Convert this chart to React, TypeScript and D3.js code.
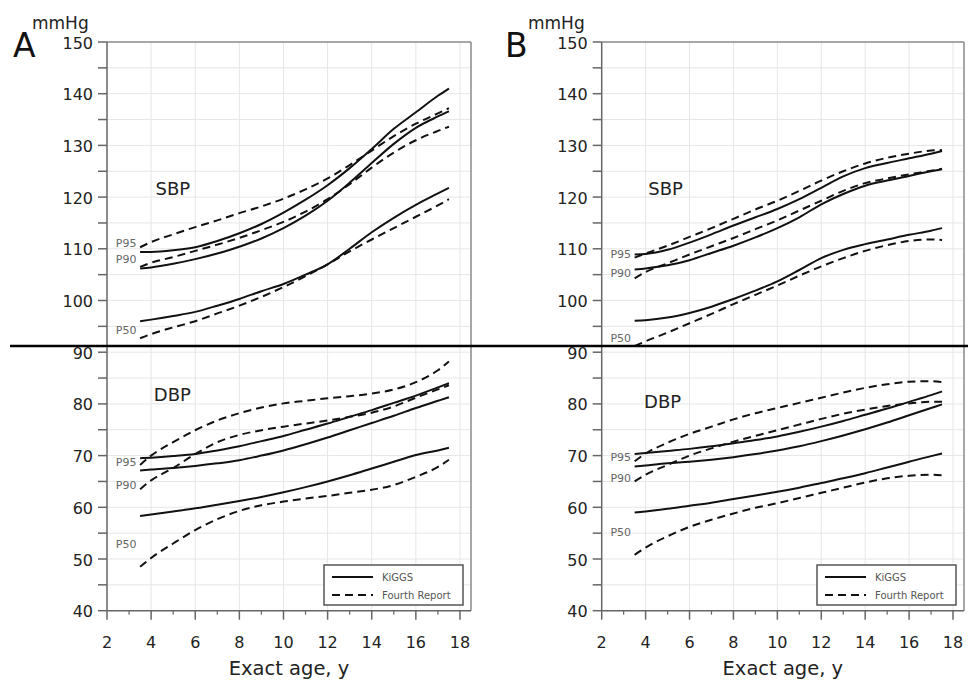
import * as d3 from "d3"

// ages at which the curves are read
const ages = [3.5, 4, 5, 6, 7, 8, 9, 10, 11, 12, 13, 14, 15, 16, 17, 17.5]

// Panel A — SBP
const aSbpK95 = [109.4, 109.4, 109.7, 110.3, 111.5, 113, 114.8, 117, 119.5, 122.3, 125.6, 129.3, 133.2, 136.4, 139.6, 141]
const aSbpK90 = [106.2, 106.4, 107.1, 108, 109.1, 110.4, 112, 114, 116.4, 119.3, 122.8, 126.6, 130.3, 133.4, 135.6, 136.6]
const aSbpK50 = [96, 96.3, 97, 97.8, 99, 100.3, 101.8, 103.2, 105, 107, 110, 113.2, 116, 118.5, 120.7, 121.8]
const aSbpF95 = [110.3, 111.3, 112.8, 114.2, 115.5, 116.9, 118.2, 119.7, 121.5, 123.6, 126.2, 129, 131.8, 134.2, 136.2, 137.2]
const aSbpF90 = [106.5, 107.3, 108.4, 109.6, 110.8, 112.1, 113.6, 115.2, 117.2, 119.6, 122.5, 125.7, 128.6, 131, 132.8, 133.6]
const aSbpF50 = [92.7, 93.5, 94.8, 96, 97.5, 99, 100.7, 102.6, 104.7, 107, 109.5, 111.8, 114, 116.2, 118.4, 119.6]

// Panel A — DBP
const aDbpK95 = [69.5, 69.6, 69.9, 70.3, 71, 71.8, 72.8, 73.8, 75, 76.2, 77.5, 78.8, 80.2, 81.6, 83.2, 84]
const aDbpK90 = [67.1, 67.3, 67.6, 68, 68.5, 69.1, 70, 71, 72.2, 73.5, 74.9, 76.3, 77.7, 79.2, 80.6, 81.3]
const aDbpK50 = [58.3, 58.6, 59.2, 59.8, 60.5, 61.2, 62, 62.9, 63.9, 65, 66.2, 67.5, 68.8, 70.1, 71, 71.5]
const aDbpF95 = [68.2, 70, 72.6, 74.9, 76.8, 78.2, 79.3, 80.1, 80.6, 81.1, 81.5, 82, 82.8, 84.2, 86.5, 88.2]
const aDbpF90 = [63.5, 65.2, 67.6, 70.3, 72.6, 74, 74.9, 75.6, 76.2, 76.8, 77.5, 78.3, 79.5, 81.2, 82.8, 83.6]
const aDbpF50 = [48.5, 50.2, 53, 55.6, 57.7, 59.3, 60.4, 61.1, 61.7, 62.2, 62.8, 63.4, 64.3, 65.9, 67.8, 69.2]

// Panel B — SBP
const bSbpK95 = [108.9, 109, 109.8, 111.2, 112.8, 114.5, 116.1, 117.7, 119.6, 121.8, 124, 125.6, 126.6, 127.5, 128.4, 128.9]
const bSbpK90 = [106, 106.2, 106.8, 107.8, 109.2, 110.6, 112.2, 114, 116.1, 118.6, 120.6, 122.2, 123.2, 124.1, 125, 125.4]
const bSbpK50 = [96.1, 96.2, 96.7, 97.6, 98.8, 100.3, 101.9, 103.7, 105.9, 108.2, 109.8, 110.9, 111.8, 112.7, 113.5, 114]
const bSbpF95 = [108.3, 109.1, 110.6, 112.3, 114, 115.8, 117.6, 119.3, 121.2, 123.2, 125, 126.5, 127.6, 128.4, 129, 129.1]
const bSbpF90 = [104.3, 105.5, 107.2, 108.9, 110.5, 112.1, 113.8, 115.5, 117.4, 119.3, 121.2, 122.7, 123.6, 124.4, 125.1, 125.5]
const bSbpF50 = [91.2, 92.1, 93.8, 95.6, 97.4, 99.3, 101.1, 102.9, 104.8, 106.6, 108.2, 109.6, 110.7, 111.5, 111.8, 111.7]

// Panel B — DBP
const bDbpK95 = [70.3, 70.5, 70.9, 71.3, 71.8, 72.4, 73, 73.7, 74.6, 75.6, 76.7, 77.9, 79.1, 80.4, 81.7, 82.4]
const bDbpK90 = [67.9, 68.1, 68.5, 68.8, 69.2, 69.7, 70.3, 71, 71.8, 72.8, 73.9, 75.1, 76.4, 77.8, 79.2, 79.9]
const bDbpK50 = [59, 59.2, 59.7, 60.3, 60.9, 61.6, 62.3, 63, 63.8, 64.7, 65.6, 66.6, 67.7, 68.8, 69.9, 70.4]
const bDbpF95 = [68.9, 70.4, 72.5, 74.2, 75.6, 77, 78.2, 79.2, 80.2, 81.2, 82.2, 83.1, 83.8, 84.3, 84.4, 84.2]
const bDbpF90 = [65, 66.3, 68.2, 70, 71.4, 72.7, 73.8, 74.9, 76, 77.1, 78.1, 78.9, 79.6, 80.1, 80.4, 80.4]
const bDbpF50 = [50.8, 52.2, 54.4, 56.2, 57.6, 58.8, 59.9, 60.8, 61.8, 62.8, 63.8, 64.8, 65.6, 66.1, 66.3, 66.2]

const yTicks = d3.range(40, 151, 10)
const yMinor = d3.range(45, 150, 10)
const xTicks = d3.range(2, 19, 2)
const xMinor = d3.range(3, 19, 2)
const pctLabels = ["P95", "P90", "P50"]

// label anchors (value units) per panel
const aLabelY = [110.3, 107.3, 93.5, 67.9, 63.5, 52.1]
const bLabelY = [108.2, 104.5, 92.0, 69.0, 64.8, 54.4]

const panels = [
  {
    letter: "A", left: 107, right: 471,
    kiggs: [aSbpK95, aSbpK90, aSbpK50, aDbpK95, aDbpK90, aDbpK50],
    fourth: [aSbpF95, aSbpF90, aSbpF50, aDbpF95, aDbpF90, aDbpF50],
    labelY: aLabelY, sbp: [4.2, 120.4], dbp: [4.12, 80.6],
    letterX: 13, unitX: 32,
  },
  {
    letter: "B", left: 601.7, right: 964,
    kiggs: [bSbpK95, bSbpK90, bSbpK50, bDbpK95, bDbpK90, bDbpK50],
    fourth: [bSbpF95, bSbpF90, bSbpF50, bDbpF95, bDbpF90, bDbpF50],
    labelY: bLabelY, sbp: [4.12, 120.4], dbp: [3.93, 79.2],
    letterX: 505, unitX: 528,
  },
]

const font = "DejaVu Sans, Arial, sans-serif"
const top = 42
const bottom = 610.7

function Panel({ p }: { p: any }) {
  const x = d3.scaleLinear().domain([2, 18.5]).range([p.left, p.right])
  const y = d3.scaleLinear().domain([40, 150]).range([bottom, top])
  const line = d3.line<number>()
    .x((_, i) => x(ages[i]))
    .y(d => y(d))
    .curve(d3.curveMonotoneX)

  const legX = x(18.5) - 8 - 139
  const legY = 565

  return (
    <g fontFamily={font}>
      {/* grid */}
      {d3.range(45, 150, 5).map(v => (
        <line key={"h" + v} x1={p.left} x2={p.right} y1={y(v)} y2={y(v)} stroke="#e6e6e6" strokeWidth={1} />
      ))}
      {xTicks.slice(1).map(v => (
        <line key={"v" + v} x1={x(v)} x2={x(v)} y1={top} y2={bottom} stroke="#e6e6e6" strokeWidth={1} />
      ))}

      {/* frame */}
      <line x1={p.left} x2={p.right} y1={top} y2={top} stroke="#8a8a8a" strokeWidth={1.5} />
      <line x1={p.right} x2={p.right} y1={top} y2={bottom} stroke="#8a8a8a" strokeWidth={1.5} />
      <line x1={p.left} x2={p.left} y1={top} y2={bottom} stroke="#666" strokeWidth={1.5} />
      <line x1={p.left} x2={p.right} y1={bottom} y2={bottom} stroke="#666" strokeWidth={1.5} />

      {/* y axis */}
      {yTicks.concat(yMinor).map(v => (
        <line key={"yt" + v} x1={p.left - 9} x2={p.left} y1={y(v)} y2={y(v)} stroke="#666" strokeWidth={1.5} />
      ))}
      {yTicks.map(v => (
        <text key={"yl" + v} x={p.left - 14} y={y(v) + 1} textAnchor="end" dominantBaseline="central"
          fontSize={16} fill="#222">{v}</text>
      ))}

      {/* x axis */}
      {xTicks.map(v => (
        <line key={"xt" + v} x1={x(v)} x2={x(v)} y1={bottom} y2={bottom + 9} stroke="#666" strokeWidth={1.5} />
      ))}
      {xMinor.map(v => (
        <line key={"xm" + v} x1={x(v)} x2={x(v)} y1={bottom} y2={bottom + 4} stroke="#666" strokeWidth={1.2} />
      ))}
      {xTicks.map(v => (
        <text key={"xl" + v} x={x(v)} y={648} textAnchor="middle" fontSize={16} fill="#222">{v}</text>
      ))}
      <text x={(p.left + p.right) / 2} y={675} textAnchor="middle" fontSize={19.5} fill="#222">Exact age, y</text>

      {/* panel letter and unit */}
      <text x={p.letterX} y={57} fontSize={33} fill="#111">{p.letter}</text>
      <text x={p.unitX} y={29} fontSize={17} fill="#222">mmHg</text>

      {/* curves */}
      {p.fourth.map((s: number[], i: number) => (
        <path key={"f" + i} d={line(s) || ""} fill="none" stroke="#111" strokeWidth={2} strokeDasharray="8,5" />
      ))}
      {p.kiggs.map((s: number[], i: number) => (
        <path key={"k" + i} d={line(s) || ""} fill="none" stroke="#111" strokeWidth={2} />
      ))}

      {/* labels */}
      {p.labelY.map((v: number, i: number) => (
        <text key={"pl" + i} x={x(2.4)} y={y(v)} fontSize={11} fill="#666">{pctLabels[i % 3]}</text>
      ))}
      <text x={x(p.sbp[0])} y={y(p.sbp[1])} fontSize={18} fill="#222">SBP</text>
      <text x={x(p.dbp[0])} y={y(p.dbp[1])} fontSize={18} fill="#222">DBP</text>

      {/* legend */}
      <rect x={legX} y={legY} width={139} height={40} fill="#fff" stroke="#555" strokeWidth={1.5} />
      <line x1={legX + 8} x2={legX + 49} y1={legY + 12} y2={legY + 12} stroke="#111" strokeWidth={2.2} />
      <line x1={legX + 8} x2={legX + 49} y1={legY + 30} y2={legY + 30} stroke="#111" strokeWidth={2.2} strokeDasharray="8,5" />
      <text x={legX + 58} y={legY + 16} fontSize={10} fill="#555">KiGGS</text>
      <text x={legX + 58} y={legY + 34} fontSize={10} fill="#555">Fourth Report</text>
    </g>
  )
}

export default function App() {
  return (
    <svg width={968} height={700} style={{ position: "absolute", left: 0, top: 0, background: "#fff" }}>
      <rect width={968} height={700} fill="#fff" />
      {panels.map(p => <Panel key={p.letter} p={p} />)}
      <line x1={10} x2={968} y1={346} y2={346} stroke="#000" strokeWidth={2.5} />
    </svg>
  )
}
